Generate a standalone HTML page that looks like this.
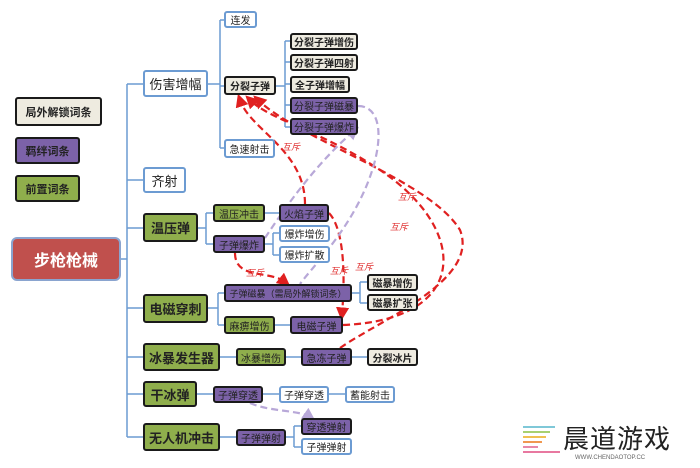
<!DOCTYPE html>
<html><head><meta charset="utf-8"><style>
body{margin:0;width:700px;height:468px;background:#fff;position:relative;overflow:hidden;font-family:"Liberation Sans","Noto Sans CJK SC",sans-serif;}
.b{position:absolute;box-sizing:border-box;display:flex;align-items:center;justify-content:center;font-size:10px;color:#222;border-radius:3px;white-space:nowrap;}
.w{background:#fff;border:2px solid #6c9bd2;}
.g{background:#8fae4c;border:2px solid #1a1a1a;}
.p{background:#7c62a8;border:2px solid #1a1a1a;}
.e{background:#eeebe0;border:2px solid #1a1a1a;font-weight:bold;}
.L{font-size:13px;font-weight:bold;}
svg{position:absolute;left:0;top:0;}
.m{position:absolute;font-size:9px;color:#e03030;font-style:italic;}
</style></head><body>
<svg width="700" height="468">
<defs>
<marker id="r" markerWidth="6" markerHeight="6" refX="3" refY="3" orient="auto"><path d="M0 0L6 3L0 6Z" fill="#e02020"/></marker>
<marker id="v" markerWidth="6" markerHeight="6" refX="3" refY="3" orient="auto"><path d="M0 0L6 3L0 6Z" fill="#b8a8d8"/></marker>
</defs>
<g stroke="#6c9bd2" stroke-width="1.5" fill="none">
<path d="M121 259H127M127 84V437M127 84H143M127 180H143M127 228H143M127 308H143M127 357H143M127 394H143M127 437H143"/>
<path d="M208 84H220M220 20V148M220 20H224M220 86H224M220 148H224"/>
<path d="M276 86H285M285 41V127M285 41H290M285 62H290M285 84H290M285 105H290M285 127H290"/>
<path d="M198 228H206M206 213V244M206 213H213M206 244H213M265 213H279M265 244H273M273 233V255M273 233H279M273 255H279"/>
<path d="M208 308H218M218 293V325M218 293H224M218 325H224M275 325H290M352 293H360M360 282V303M360 282H367M360 303H367"/>
<path d="M220 357H236M286 357H301M352 357H367M197 394H213M263 394H279M329 394H345M220 437H236M286 437H294M294 426V447M294 426H301M294 447H301"/>
</g>
<g stroke="#e02020" stroke-width="2.2" fill="none" stroke-dasharray="7,4">
<path d="M305 204C305 150 250 130 240 100" marker-end="url(#r)"/>
<path d="M343 325C470 320 470 230 380 170C320 130 270 120 250 100" marker-end="url(#r)"/>
<path d="M340 348C380 320 480 280 460 230C430 180 300 140 258 100" marker-end="url(#r)"/>
<path d="M329 213C345 230 345 280 342 314" marker-end="url(#r)"/>
<path d="M235 253C235 280 270 270 285 282" marker-end="url(#r)"/>
</g>
<g stroke="#b8a8d8" stroke-width="2.2" fill="none" stroke-dasharray="7,4">
<path d="M358 106C385 106 385 150 360 200C340 240 310 270 300 284"/>
<path d="M265 238C290 200 320 160 354 131" marker-end="url(#v)"/>
<path d="M250 403C270 412 300 410 310 417" marker-end="url(#v)"/>
</g>
</svg>
<div class="b e" style="left:15px;top:97px;width:87px;height:29px;font-size:11px">局外解锁词条</div>
<div class="b p" style="left:15px;top:137px;width:65px;height:27px;font-size:11px;font-weight:bold">羁绊词条</div>
<div class="b g" style="left:15px;top:175px;width:65px;height:27px;font-size:11px;font-weight:bold">前置词条</div>
<div class="b" style="left:11px;top:237px;width:110px;height:44px;background:#c0504d;border:2px solid #8aa4cf;border-radius:6px;color:#fff;font-size:16px;font-weight:bold">步枪枪械</div>
<div class="b w" style="left:143px;top:70px;width:65px;height:27px;font-size:13px">伤害增幅</div>
<div class="b w" style="left:143px;top:167px;width:43px;height:26px;font-size:13px">齐射</div>
<div class="b g L" style="left:143px;top:213px;width:55px;height:29px">温压弹</div>
<div class="b g L" style="left:143px;top:294px;width:65px;height:29px">电磁穿刺</div>
<div class="b g L" style="left:143px;top:343px;width:77px;height:28px">冰暴发生器</div>
<div class="b g L" style="left:143px;top:381px;width:54px;height:26px">干冰弹</div>
<div class="b g L" style="left:143px;top:423px;width:77px;height:28px">无人机冲击</div>
<div class="b w" style="left:224px;top:11px;width:33px;height:17px">连发</div>
<div class="b e" style="left:224px;top:76px;width:52px;height:19px">分裂子弹</div>
<div class="b w" style="left:224px;top:139px;width:51px;height:19px">急速射击</div>
<div class="b e" style="left:290px;top:33px;width:68px;height:17px">分裂子弹增伤</div>
<div class="b e" style="left:290px;top:54px;width:68px;height:17px">分裂子弹四射</div>
<div class="b e" style="left:290px;top:76px;width:60px;height:17px">全子弹增幅</div>
<div class="b p" style="left:290px;top:97px;width:68px;height:17px">分裂子弹磁暴</div>
<div class="b p" style="left:290px;top:118px;width:68px;height:17px">分裂子弹爆炸</div>
<div class="b g" style="left:213px;top:204px;width:52px;height:18px">温压冲击</div>
<div class="b p" style="left:213px;top:235px;width:52px;height:18px">子弹爆炸</div>
<div class="b p" style="left:279px;top:204px;width:50px;height:18px">火焰子弹</div>
<div class="b w" style="left:279px;top:225px;width:51px;height:17px">爆炸增伤</div>
<div class="b w" style="left:279px;top:246px;width:51px;height:17px">爆炸扩散</div>
<div class="b p" style="left:224px;top:284px;width:128px;height:18px;font-size:9px">子弹磁暴（需局外解锁词条）</div>
<div class="b g" style="left:224px;top:316px;width:51px;height:18px">麻痹增伤</div>
<div class="b p" style="left:290px;top:316px;width:53px;height:18px">电磁子弹</div>
<div class="b e" style="left:367px;top:274px;width:51px;height:17px">磁暴增伤</div>
<div class="b e" style="left:367px;top:294px;width:51px;height:17px">磁暴扩张</div>
<div class="b g" style="left:236px;top:348px;width:50px;height:18px">冰暴增伤</div>
<div class="b p" style="left:301px;top:348px;width:51px;height:18px">急冻子弹</div>
<div class="b e" style="left:367px;top:348px;width:51px;height:18px">分裂冰片</div>
<div class="b p" style="left:213px;top:386px;width:50px;height:17px">子弹穿透</div>
<div class="b w" style="left:279px;top:386px;width:50px;height:17px">子弹穿透</div>
<div class="b w" style="left:345px;top:386px;width:50px;height:17px">蓄能射击</div>
<div class="b p" style="left:236px;top:429px;width:50px;height:17px">子弹弹射</div>
<div class="b p" style="left:301px;top:418px;width:51px;height:17px">穿透弹射</div>
<div class="b w" style="left:301px;top:438px;width:51px;height:17px">子弹弹射</div>
<div class="m" style="left:282px;top:140px">互斥</div>
<div class="m" style="left:398px;top:190px">互斥</div>
<div class="m" style="left:390px;top:220px">互斥</div>
<div class="m" style="left:246px;top:266px">互斥</div>
<div class="m" style="left:330px;top:264px">互斥</div>
<div class="m" style="left:355px;top:260px">互斥</div>
<svg width="700" height="468" style="pointer-events:none">
<g stroke-width="2"><line x1="523" y1="427" x2="555" y2="427" stroke="#7fc8d8"/><line x1="523" y1="432" x2="550" y2="432" stroke="#a8d070"/><line x1="523" y1="437" x2="546" y2="437" stroke="#f0c050"/><line x1="523" y1="442" x2="542" y2="442" stroke="#f09850"/><line x1="523" y1="447" x2="538" y2="447" stroke="#e888a8"/><line x1="523" y1="452" x2="560" y2="452" stroke="#e878a0"/></g>
</svg>
<div style="position:absolute;left:563px;top:419px;font-size:26px;color:#222;letter-spacing:1px">晨道游戏</div>
<div style="position:absolute;left:575px;top:455px;font-size:6px;color:#666">WWW.CHENDAOTOP.CC</div>
</body></html>
